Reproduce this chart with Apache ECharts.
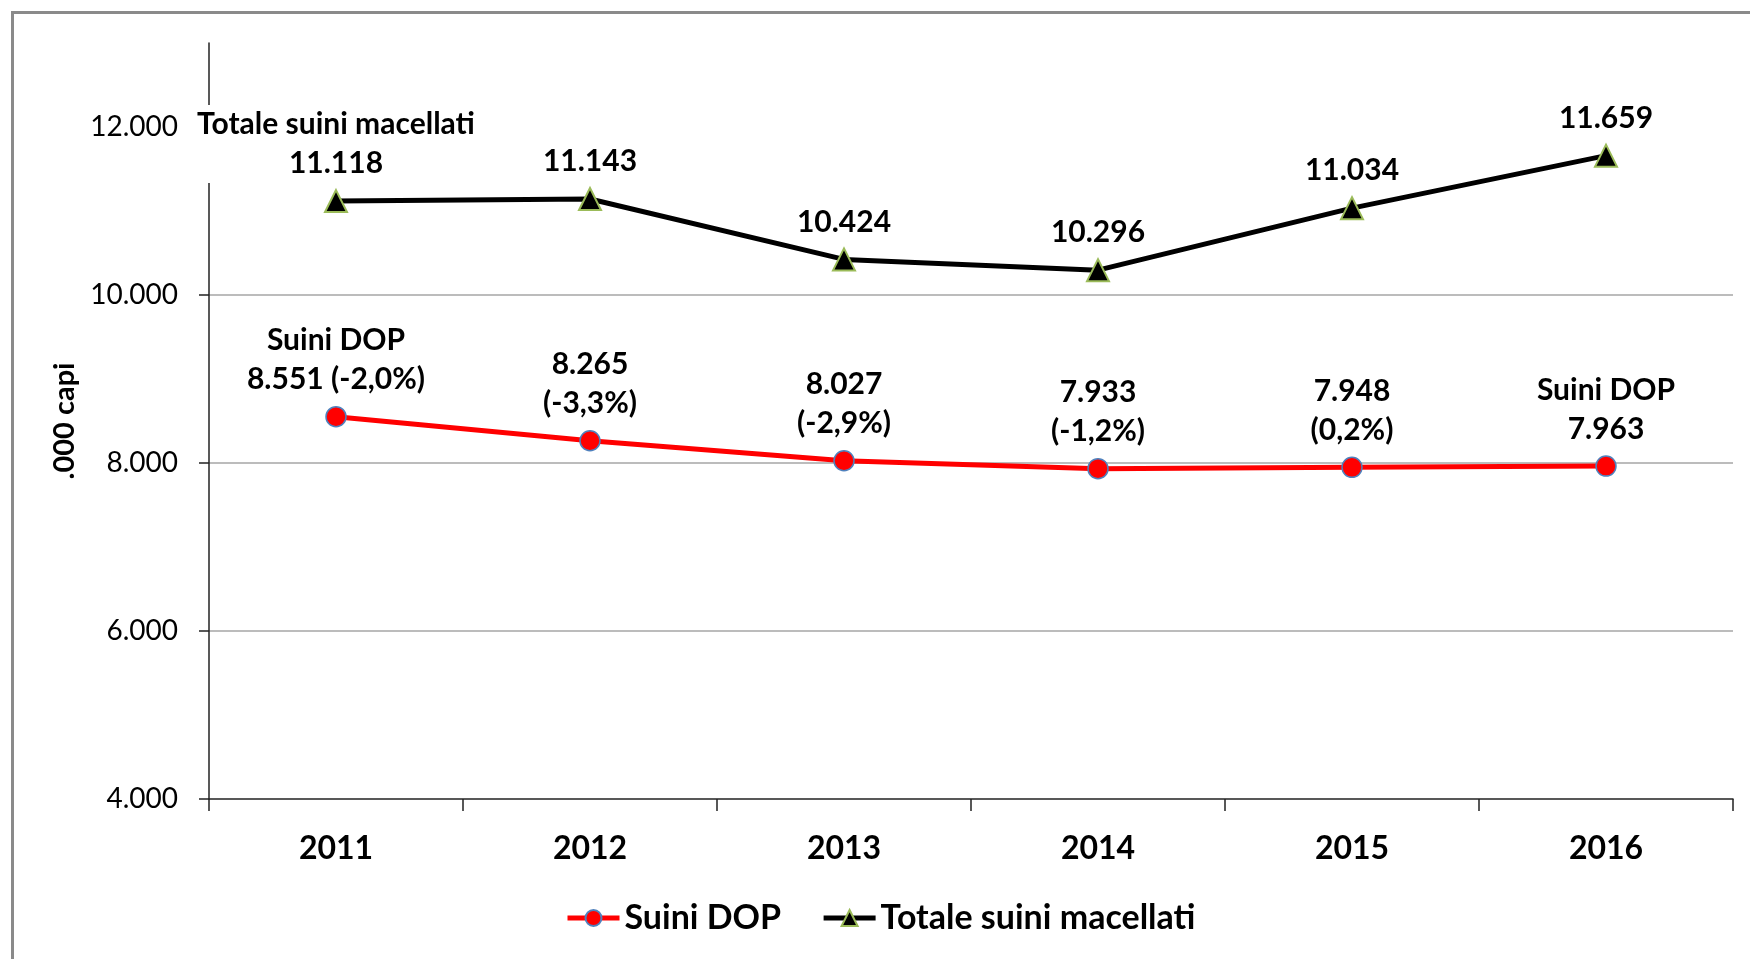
<!DOCTYPE html>
<html>
<head>
<meta charset="utf-8">
<script src="https://cdn.jsdelivr.net/npm/echarts@6/dist/echarts.min.js"></script>
<style>
html,body{margin:0;padding:0;background:#fff;}
#chart{width:1750px;height:959px;}
</style>
</head>
<body>
<div id="chart"></div>
<script>
const years = ['2011', '2012', '2013', '2014', '2015', '2016'];
const suiniDOP = [8551, 8265, 8027, 7933, 7948, 7963];
const totaleSuini = [11118, 11143, 10424, 10296, 11034, 11659];
const dopChange = ['-2,0%', '-3,3%', '-2,9%', '-1,2%', '0,2%', null];
const yTicks = [4000, 6000, 8000, 10000, 12000];
const seriesNames = ['Suini DOP', 'Totale suini macellati'];
const yAxisName = '.000 capi';

const FONT = 'Lato';
function fmt(n) { return String(n).replace(/\B(?=(\d{3})+(?!\d))/g, '.'); }

function dopLabel(i) {
  const v = fmt(suiniDOP[i]);
  if (i === 0) return seriesNames[0] + '\n' + v + ' (' + dopChange[i] + ')';
  if (i === suiniDOP.length - 1) return seriesNames[0] + '\n' + v;
  return v + '\n(' + dopChange[i] + ')';
}
function totLabel(i) {
  const v = fmt(totaleSuini[i]);
  if (i === 0) return seriesNames[1] + '\n' + v;
  return v;
}

const labelStyle = {
  show: true,
  position: 'top',
  fontFamily: FONT,
  fontWeight: 'bold',
  fontSize: 30,
  lineHeight: 39,
  color: '#000',
  backgroundColor: '#fff',
  padding: [0, 4]
};

const chart = echarts.init(document.getElementById('chart'), null, { renderer: 'canvas' });
chart.setOption({
  backgroundColor: '#fff',
  animation: false,
  graphic: [{
    type: 'rect',
    left: 10, top: 10,
    shape: { width: 1800, height: 1000 },
    style: { fill: 'none', stroke: '#8a8a8a', lineWidth: 3 },
    z: -10, silent: true
  }],
  grid: { left: 209, right: 17, top: 43, bottom: 160 },
  legend: {
    left: 560,
    top: 896,
    itemWidth: 52,
    itemHeight: 20,
    itemGap: 40,
    lineStyle: { width: 5 },
    textStyle: { fontFamily: FONT, fontWeight: 'bold', fontSize: 34, color: '#000' },
    data: seriesNames
  },
  xAxis: {
    type: 'category',
    data: years,
    boundaryGap: true,
    axisLine: { lineStyle: { color: '#222', width: 1.5 } },
    axisTick: { show: true, alignWithLabel: false, length: 12, lineStyle: { color: '#222', width: 1.5 } },
    axisLabel: { fontFamily: FONT, fontWeight: 'bold', fontSize: 32, color: '#000', margin: 34 },
    splitLine: { show: false }
  },
  yAxis: {
    type: 'value',
    min: 4000,
    max: 13000,
    interval: 2000,
    name: yAxisName,
    nameLocation: 'middle',
    nameRotate: 90,
    nameGap: 128,
    nameTextStyle: { fontFamily: FONT, fontWeight: 'bold', fontSize: 29, color: '#000' },
    axisLine: { show: true, lineStyle: { color: '#222', width: 1.5 } },
    axisTick: { show: true, length: 10, customValues: yTicks, lineStyle: { color: '#222', width: 1.5 } },
    axisLabel: {
      customValues: yTicks,
      fontFamily: FONT, fontSize: 28, color: '#000', margin: 31,
      formatter: function (v) { return fmt(v); }
    },
    splitLine: { show: true, showMinLine: false, showMaxLine: false, lineStyle: { color: '#a6a6a6', width: 1.5 } }
  },
  series: [
    {
      name: seriesNames[0],
      type: 'line',
      data: suiniDOP,
      symbol: 'circle',
      symbolSize: 20,
      lineStyle: { color: '#ff0000', width: 5 },
      itemStyle: { color: '#ff0000', borderColor: '#4f81bd', borderWidth: 1.5 },
      label: Object.assign({}, labelStyle, { distance: 7, formatter: function (p) { return dopLabel(p.dataIndex); } }),
      z: 3
    },
    {
      name: seriesNames[1],
      type: 'line',
      data: totaleSuini,
      symbol: 'triangle',
      symbolSize: 22,
      lineStyle: { color: '#000', width: 5 },
      itemStyle: { color: '#000', borderColor: '#9bbb59', borderWidth: 2 },
      label: Object.assign({}, labelStyle, { distance: 6, formatter: function (p) { return totLabel(p.dataIndex); } }),
      z: 3
    }
  ]
});
</script>
</body>
</html>
